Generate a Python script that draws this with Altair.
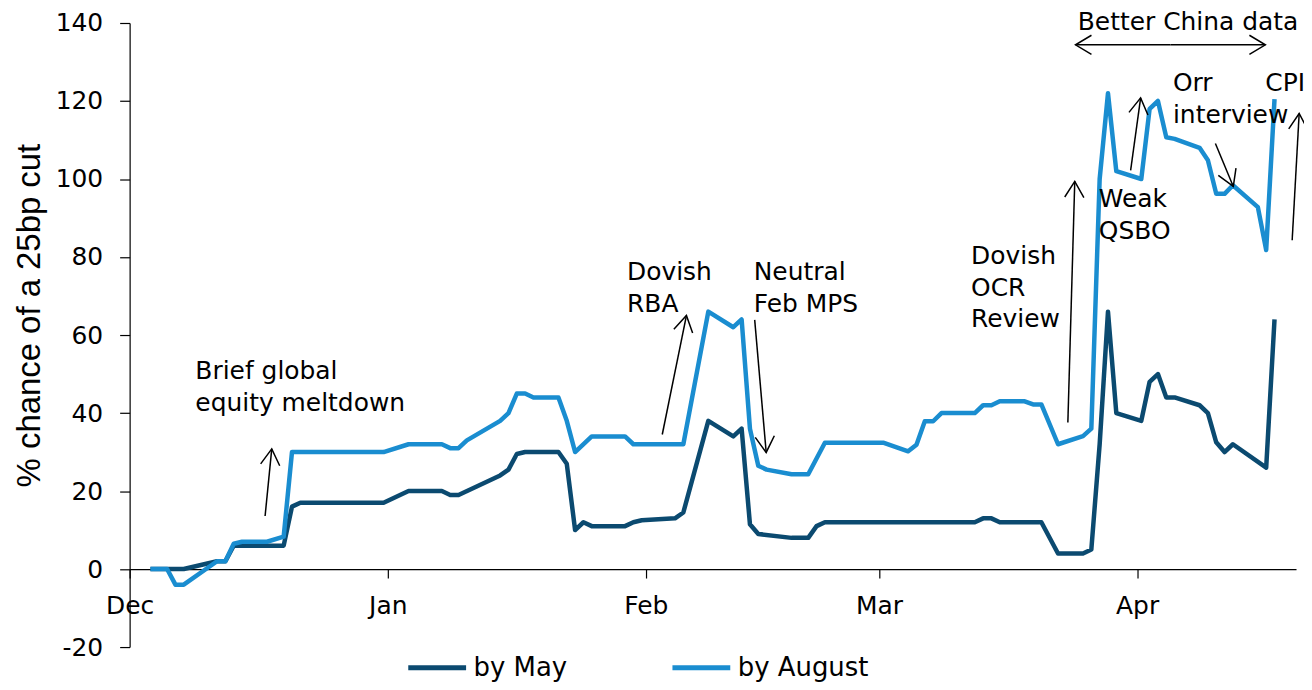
import math
import altair as alt
import pandas as pd

# ---------------- data ----------------
may_dates = ["2018-12-03", "2018-12-07", "2018-12-11", "2018-12-12", "2018-12-13", "2018-12-19",
             "2018-12-20", "2018-12-21", "2018-12-31", "2019-01-03", "2019-01-07", "2019-01-08",
             "2019-01-09", "2019-01-14", "2019-01-15", "2019-01-16", "2019-01-17", "2019-01-21",
             "2019-01-22", "2019-01-23", "2019-01-24", "2019-01-25", "2019-01-29", "2019-01-30",
             "2019-01-31", "2019-02-04", "2019-02-05", "2019-02-08", "2019-02-11", "2019-02-12",
             "2019-02-13", "2019-02-14", "2019-02-18", "2019-02-20", "2019-02-21", "2019-02-22",
             "2019-03-12", "2019-03-13", "2019-03-14", "2019-03-15", "2019-03-20", "2019-03-22",
             "2019-03-25", "2019-03-26", "2019-03-27", "2019-03-28", "2019-03-29", "2019-04-01",
             "2019-04-02", "2019-04-03", "2019-04-04", "2019-04-05", "2019-04-08", "2019-04-09",
             "2019-04-10", "2019-04-11", "2019-04-12", "2019-04-16", "2019-04-17"]
may_values = [0, 0, 2, 2, 6, 6, 16, 17, 17, 20,
              20, 19, 19, 24, 25.5, 29.5, 30, 30, 27, 10,
              12, 11, 11, 12, 12.5, 13, 14.5, 38, 34, 36,
              11.5, 9, 8, 8, 11, 12, 12, 13, 13, 12,
              12, 4, 4, 5, 32, 66, 40, 38, 48, 50,
              44, 44, 42, 40, 32.5, 30, 32, 26, 64]

aug_dates = ["2018-12-03", "2018-12-05", "2018-12-06", "2018-12-07", "2018-12-11", "2018-12-12",
             "2018-12-13", "2018-12-14", "2018-12-17", "2018-12-19", "2018-12-20", "2018-12-31",
             "2019-01-03", "2019-01-07", "2019-01-08", "2019-01-09", "2019-01-10", "2019-01-14",
             "2019-01-15", "2019-01-16", "2019-01-17", "2019-01-18", "2019-01-21", "2019-01-22",
             "2019-01-23", "2019-01-25", "2019-01-29", "2019-01-30", "2019-02-05", "2019-02-08",
             "2019-02-11", "2019-02-12", "2019-02-13", "2019-02-14", "2019-02-15", "2019-02-18",
             "2019-02-20", "2019-02-22", "2019-03-01", "2019-03-04", "2019-03-05", "2019-03-06",
             "2019-03-07", "2019-03-08", "2019-03-12", "2019-03-13", "2019-03-14", "2019-03-15",
             "2019-03-18", "2019-03-19", "2019-03-20", "2019-03-22", "2019-03-25", "2019-03-26",
             "2019-03-27", "2019-03-28", "2019-03-29", "2019-04-01", "2019-04-02", "2019-04-03",
             "2019-04-04", "2019-04-05", "2019-04-08", "2019-04-09", "2019-04-10", "2019-04-11",
             "2019-04-12", "2019-04-15", "2019-04-16", "2019-04-17"]
aug_values = [0, 0, -4, -4, 2, 2, 6.5, 7, 7, 8.3,
              30, 30, 32, 32, 31, 31, 33, 38, 40, 45,
              45, 44, 44, 38, 30, 34, 34, 32, 32, 66,
              62, 64, 36, 26.5, 25.5, 24.3, 24.3, 32.4, 32.4, 30.2,
              31.9, 37.9, 37.9, 40, 40, 42, 42, 43, 43, 42.2,
              42.2, 32, 34.1, 36, 100, 122, 102, 100, 118, 120,
              110.7, 110.3, 108, 104.8, 96.2, 96.2, 98.4, 92.8, 81.8, 120.5]

series_names = ["by May", "by August"]
series_colors = ["#0b4a70", "#1a8dd0"]

month_ticks = ["2018-12-01", "2019-01-01", "2019-02-01", "2019-03-01", "2019-04-01"]

# annotations (days after 1 Dec 2018, value on the y scale)
note_texts = ["Brief global\nequity meltdown", "Dovish\nRBA", "Neutral\nFeb MPS",
              "Dovish\nOCR\nReview", "Weak\nQSBO", "Orr\ninterview", "CPI", "Better China data"]
note_days = [7.89, 59.74, 74.95, 101.06, 116.4, 125.3, 136.4, 113.87]
note_values = [53.8, 79.1, 79.1, 83.4, 98.0, 127.6, 127.6, 143.2]

arrow_day_from = [16.27, 63.97, 75.07, 112.68, 120.22, 130.4, 139.62, 125.0, 125.0]
arrow_val_from = [13.6, 34.5, 63.9, 37.6, 102.2, 109.1, 84.3, 134.4, 134.4]
arrow_day_to = [17.07, 66.87, 76.45, 113.51, 121.42, 132.55, 140.46, 136.4, 113.6]
arrow_val_to = [30.8, 65.0, 29.9, 99.4, 120.8, 98.1, 116.8, 134.4, 134.4]

# ---------------- layout ----------------
W, H = 1170, 626
Y_MIN, Y_MAX = -20, 140
X_START = pd.Timestamp("2018-12-01")
X_END = pd.Timestamp("2019-04-20 02:00")
px_per_day = W / ((X_END - X_START).total_seconds() / 86400)
px_per_unit = H / (Y_MAX - Y_MIN)
FONT = "DejaVu Sans"

half_day = pd.Timedelta(hours=12)
lines = pd.concat([
    pd.DataFrame({"date": pd.to_datetime(may_dates) + half_day, "value": may_values, "series": series_names[0]}),
    pd.DataFrame({"date": pd.to_datetime(aug_dates) + half_day, "value": aug_values, "series": series_names[1]}),
], ignore_index=True)

notes = pd.DataFrame({
    "date": X_START + pd.to_timedelta(note_days, unit="D"),
    "value": note_values,
    "label": note_texts,
})

angles = []
for d0, v0, d1, v1 in zip(arrow_day_from, arrow_val_from, arrow_day_to, arrow_val_to):
    dx = (d1 - d0) * px_per_day
    dy = -(v1 - v0) * px_per_unit
    angles.append(math.degrees(math.atan2(dx, -dy)) % 360)

arrows = pd.DataFrame({
    "d0": X_START + pd.to_timedelta(arrow_day_from, unit="D"),
    "v0": arrow_val_from,
    "d1": X_START + pd.to_timedelta(arrow_day_to, unit="D"),
    "v1": arrow_val_to,
    "ang": angles,
})

x_scale = alt.Scale(domain=[alt.DateTime(year=2018, month=12, date=1),
                            alt.DateTime(year=2019, month=4, date=20, hours=2)])
y_scale = alt.Scale(domain=[Y_MIN, Y_MAX], nice=False, zero=False)

x_axis = alt.Axis(
    title=None, format="%b", values=[alt.DateTime(year=int(s[:4]), month=int(s[5:7]), date=1) for s in month_ticks],
    offset=-(H * (0 - Y_MIN) / (Y_MAX - Y_MIN)), grid=False,
    domainColor="black", domainWidth=1.2, tickColor="black", tickSize=9, tickWidth=1.2,
    labelFont=FONT, labelFontSize=25, labelColor="black", labelPadding=16, labelFlush=False,
    labelAlign="center", labelBaseline="top",
)
y_axis = alt.Axis(
    title="% chance of a 25bp cut", values=list(range(-20, 141, 20)), grid=False,
    labelExpr="datum.value < 0 ? '-' + abs(datum.value) : '' + datum.value",
    domainColor="black", domainWidth=1.2, tickColor="black", tickSize=10, tickWidth=1.2,
    labelFont=FONT, labelFontSize=25, labelColor="black", labelPadding=17,
    titleFont="Liberation Sans", titleFontSize=33, titleFontWeight="normal", titleColor="black",
    titleX=-100, titleY=293, titleAngle=270, titleAlign="center", titleBaseline="middle",
)

color = alt.Color(
    "series:N",
    scale=alt.Scale(domain=series_names, range=series_colors),
    legend=alt.Legend(
        title=None, orient="none", direction="horizontal", legendX=277, legendY=615,
        symbolType="stroke", symbolSize=3364, symbolStrokeWidth=5,
        labelFont=FONT, labelFontSize=26, labelColor="black", labelOffset=5,
        columnPadding=95, padding=0,
    ),
)

base = alt.Chart(lines)
line_may = base.transform_filter(alt.datum.series == series_names[0]).mark_line(
    strokeWidth=4.5, strokeJoin="round"
).encode(
    x=alt.X("date:T", scale=x_scale, axis=x_axis),
    y=alt.Y("value:Q", scale=y_scale, axis=y_axis),
    color=color,
)
line_aug = base.transform_filter(alt.datum.series == series_names[1]).mark_line(
    strokeWidth=4.5, strokeJoin="round"
).encode(
    x=alt.X("date:T", scale=x_scale),
    y=alt.Y("value:Q", scale=y_scale),
    color=color,
)

arrow_lines = alt.Chart(arrows).mark_rule(color="black", strokeWidth=1.5).encode(
    x="d0:T", y="v0:Q", x2="d1:T", y2="v1:Q"
)
arrow_heads = alt.Chart(arrows).mark_point(
    shape="M-0.6,1L0,0L0.6,1", filled=False, color="black", strokeWidth=1.5, size=1024, opacity=1
).encode(
    x="d1:T", y="v1:Q", angle=alt.Angle("ang:Q", scale=None)
)

note_marks = alt.Chart(notes).mark_text(
    align="left", baseline="top", font=FONT, fontSize=25, lineHeight=32, color="black", lineBreak="\n"
).encode(x="date:T", y="value:Q", text="label:N")

chart = alt.layer(line_may, line_aug, arrow_lines, arrow_heads, note_marks).properties(
    width=W, height=H,
    autosize=alt.AutoSizeParams(type="none"),
    padding={"left": 122, "top": 14, "right": 8, "bottom": 34},
).configure_view(stroke=None)

chart.save("out.html", embed_options={"renderer": "svg", "actions": False})
